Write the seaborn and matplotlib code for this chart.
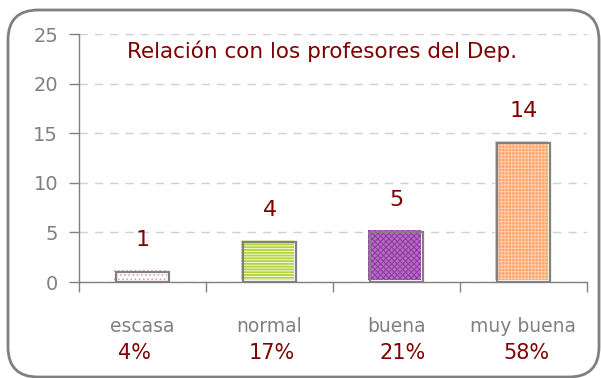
import matplotlib
matplotlib.use("Agg")
import matplotlib.pyplot as plt
import matplotlib.patches as mpatches
import matplotlib.transforms as mtransforms
import seaborn as sns
import pandas as pd

categories = ["escasa", "normal", "buena", "muy buena"]
counts = [1, 4, 5, 14]
percents = [4, 17, 21, 58]

title = "Relación con los profesores del Dep."
y_ticks = [0, 5, 10, 15, 20, 25]

fills = ["#ffffff", "#b5d33a", "#b868c8", "#ffa366"]
hatch_colors = ["#e8a0a0", "#f4fbe0", "#8a3c9a", "#ffd0b0"]
hatches = ["....", "------", "xxxxxx", "+++++"]

dark_red = "#7f0000"
grey = "#808080"

sns.set_theme(style="white")
plt.rcParams["font.family"] = ["DejaVu Sans"]
plt.rcParams["hatch.linewidth"] = 0.7

df = pd.DataFrame({"cat": categories, "n": counts})

fig = plt.figure(figsize=(6.01, 3.78), dpi=100)
fig.patch.set_facecolor("white")
ax = fig.add_axes([79 / 601, 1 - 282 / 378, (587 - 79) / 601, (282 - 34) / 378])

sns.barplot(data=df, x="cat", y="n", hue="cat", palette=fills, legend=False,
            width=0.42, ax=ax, saturation=1)

# hatched fill nudged up-left, with a grey outline drawn on top
shift = mtransforms.ScaledTranslation(-2 / 100, 2 / 100, fig.dpi_scale_trans)
for patch, h, hc in zip(list(ax.patches), hatches, hatch_colors):
    outline = mpatches.Rectangle(patch.get_xy(), patch.get_width(), patch.get_height(),
                                 fill=False, edgecolor=grey, linewidth=1.6, zorder=3)
    patch.set_hatch(h)
    patch.set_edgecolor(hc)
    patch.set_linewidth(0)
    patch.set_transform(ax.transData + shift)
    ax.add_patch(outline)

ax.set_ylim(0, 25)
ax.set_xlim(-0.5, 3.5)
ax.set_yticks(y_ticks)
ax.set_yticklabels([str(t) for t in y_ticks], color=grey, fontsize=14)
ax.yaxis.grid(True, color="#d0d0d0", linestyle=(0, (6, 5)), linewidth=1)
ax.set_axisbelow(True)

ax.set_xticks(range(len(categories)))
ax.set_xticklabels(categories, color=grey, fontsize=13.5)
ax.set_xticks([i - 0.5 for i in range(len(categories) + 1)], minor=True)
ax.tick_params(axis="x", which="major", length=0, pad=25)
ax.tick_params(axis="x", which="minor", length=7, color=grey, width=1, direction="out",
               bottom=True)
ax.tick_params(axis="y", length=7, color=grey, width=1, direction="out", left=True,
               pad=8)
ax.set_xlabel("")
ax.set_ylabel("")

for side in ("top", "right"):
    ax.spines[side].set_visible(False)
for side in ("left", "bottom"):
    ax.spines[side].set_color(grey)
    ax.spines[side].set_linewidth(1)

# value labels above each bar
for i, v in enumerate(counts):
    ax.annotate(str(v), (i, v), xytext=(0, 32), textcoords="offset pixels",
                ha="center", va="center", color=dark_red, fontsize=16)

# percentage under each category name
pct_nudge = [-8, 2, 6, 3]
for i, (p, dx) in enumerate(zip(percents, pct_nudge)):
    ax.annotate(f"{p}%", (i, 0), xytext=(dx, -71), textcoords="offset pixels",
                ha="center", va="center", color=dark_red, fontsize=15,
                annotation_clip=False)

fig.text(322 / 601, 1 - 51 / 378, title, ha="center", va="center",
         color=dark_red, fontsize=15.5)

frame = mpatches.FancyBboxPatch((8 / 601, 1 / 378), 591 / 601, 367 / 378,
                                boxstyle="round,pad=0,rounding_size=0.05",
                                transform=fig.transFigure, fill=False,
                                edgecolor=grey, linewidth=2, clip_on=False,
                                mutation_aspect=601 / 378)
fig.patches.append(frame)

fig.savefig("out.png", dpi=100)
